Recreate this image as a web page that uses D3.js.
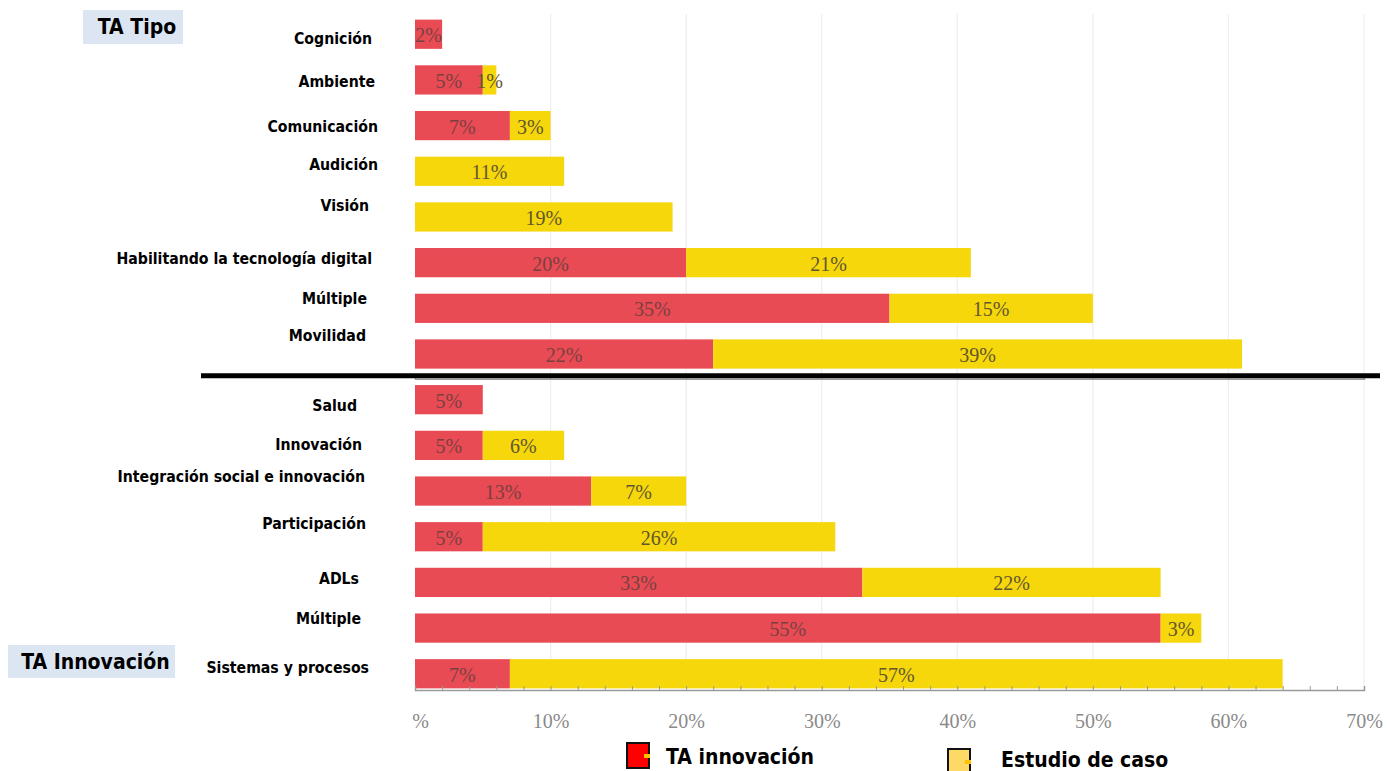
<!DOCTYPE html>
<html lang="es">
<head>
<meta charset="utf-8">
<script src="https://cdn.jsdelivr.net/npm/d3@7"></script>
<style>
  html, body { margin: 0; padding: 0; background: #ffffff; }
  svg { display: block; }
  .cat { font-family: "DejaVu Sans Condensed", "DejaVu Sans", sans-serif; font-weight: bold; font-size: 15.7px; fill: #000; }
  .val { font-family: "Liberation Serif", "DejaVu Serif", serif; font-size: 20px; }
  .tick text { font-family: "Liberation Serif", "DejaVu Serif", serif; font-size: 20px; fill: #8a8a8a; }
  .group-title { font-family: "DejaVu Sans Condensed", "DejaVu Sans", sans-serif; font-weight: bold; font-size: 21px; fill: #000; }
  .legend-text { font-family: "DejaVu Sans Condensed", "DejaVu Sans", sans-serif; font-weight: bold; font-size: 21px; fill: #000; }
</style>
</head>
<body>
<svg id="chart" width="1388" height="771"></svg>
<script>
// Tipo de tecnología asistiva
const tipoCategories = ["Cognición", "Ambiente", "Comunicación", "Audición", "Visión",
  "Habilitando la tecnología digital", "Múltiple", "Movilidad"];
const taInnovacionTipo = [2, 5, 7, 0, 0, 20, 35, 22];
const estudioCasoTipo  = [0, 1, 3, 11, 19, 21, 15, 39];

// Tipo de innovación
const innovCategories = ["Salud", "Innovación", "Integración social e innovación",
  "Participación", "ADLs", "Múltiple", "Sistemas y procesos"];
const taInnovacionInnov = [5, 5, 13, 5, 33, 55, 7];
const estudioCasoInnov  = [0, 6, 7, 26, 22, 3, 57];

const tickValues = [0, 10, 20, 30, 40, 50, 60, 70];
const tickLabels = ["%", "10%", "20%", "30%", "40%", "50%", "60%", "70%"];
const groupTitles = ["TA Tipo", "TA Innovación"];
const seriesNames = ["TA innovación", "Estudio de caso"];

// Small hand placement of the row captions relative to their bars [dx, dy]
const captionNudge = [
  [0, 4], [3, 2], [6, 1], [6, -7], [-3, -11], [0, -4], [-5, -10], [-6, -18],
  [-15, 6], [-10, -1], [-7, -15], [-6, -13], [-13, -4], [-11, -10], [-3, -6]
];

const rows = tipoCategories.map((c, i) => ({
    key: "tipo-" + i, label: c, ta: taInnovacionTipo[i], ec: estudioCasoTipo[i]
  })).concat(innovCategories.map((c, i) => ({
    key: "innov-" + i, label: c, ta: taInnovacionInnov[i], ec: estudioCasoInnov[i]
  })));

const colors = { ta: "#e94b55", ec: "#f6d70c" };
const labelColors = { ta: "#7a4040", ec: "#62562c" };

const svg = d3.select("#chart");

const x = d3.scaleLinear().domain([0, 70]).range([415, 1364]);
const y = d3.scaleBand().domain(rows.map(r => r.key)).range([5, 703])
  .paddingInner(0.36).paddingOuter(0.32);
const axisY = 690;

// vertical grid
svg.append("g").selectAll("line").data(tickValues.slice(1)).join("line")
  .attr("x1", d => x(d)).attr("x2", d => x(d))
  .attr("y1", 14).attr("y2", axisY)
  .attr("stroke", "#eeeeee").attr("stroke-width", 1.2);

// stacked bars
const stack = d3.stack().keys(["ta", "ec"]);
const series = stack(rows);

const layers = svg.append("g").selectAll("g").data(series).join("g")
  .attr("fill", s => colors[s.key]);

layers.selectAll("rect").data(s => s).join("rect")
  .attr("x", d => x(d[0]))
  .attr("y", d => y(d.data.key))
  .attr("width", d => x(d[1]) - x(d[0]))
  .attr("height", y.bandwidth());

// value labels
series.forEach(s => {
  svg.append("g").selectAll("text").data(s.filter(d => d[1] - d[0] > 0)).join("text")
    .attr("class", "val")
    .attr("fill", labelColors[s.key])
    .attr("text-anchor", "middle")
    .attr("x", d => (x(d[0]) + x(d[1])) / 2)
    .attr("y", d => y(d.data.key) + y.bandwidth() / 2)
    .attr("dy", "0.4em")
    .text(d => (d[1] - d[0]) + "%");
});

// row captions
svg.append("g").selectAll("text").data(rows).join("text")
  .attr("class", "cat")
  .attr("text-anchor", "end")
  .attr("x", (d, i) => 372 + captionNudge[i][0])
  .attr("y", (d, i) => y(d.key) + y.bandwidth() / 2 + captionNudge[i][1])
  .attr("dy", "0.35em")
  .text(d => d.label);

// bottom axis: minor ticks every 2 %
const minorAxis = d3.axisBottom(x).tickValues(d3.range(0, 71, 2)).tickSize(-4).tickFormat("");
svg.append("g").attr("transform", `translate(0,${axisY})`).call(minorAxis)
  .call(g => g.select(".domain").attr("stroke", "#9a9a9a").attr("stroke-width", 1.5))
  .call(g => g.selectAll(".tick line").attr("stroke", "#9a9a9a"));

const labelAxis = d3.axisBottom(x).tickValues(tickValues).tickSize(0).tickPadding(24)
  .tickFormat((d, i) => tickLabels[i]);
svg.append("g").attr("transform", `translate(0,${axisY})`).call(labelAxis)
  .call(g => g.select(".domain").remove())
  .call(g => g.selectAll(".tick text").attr("dx", (d, i) => i === 0 ? 5 : 0));

// axis of the upper block, under the divider
const upperSplit = (y(rows[7].key) + y.bandwidth() + y(rows[8].key)) / 2;
svg.append("g").attr("transform", `translate(0,${upperSplit + 2})`)
  .call(d3.axisBottom(x).tickValues(tickValues).tickSize(-3).tickFormat(""))
  .call(g => g.select(".domain").attr("stroke", "#9a9a9a").attr("stroke-width", 1.5))
  .call(g => g.selectAll(".tick line").attr("stroke", "#9a9a9a"));

// divider between the two groups
svg.append("line")
  .attr("x1", 201).attr("x2", 1380)
  .attr("y1", upperSplit - 1).attr("y2", upperSplit - 1)
  .attr("stroke", "#000").attr("stroke-width", 5);

// group titles
const titleBoxes = [
  { text: groupTitles[0], x: 83, y: 10, w: 100, h: 34 },
  { text: groupTitles[1], x: 8, y: 645, w: 167, h: 33 }
];
const tg = svg.append("g").selectAll("g").data(titleBoxes).join("g");
tg.append("rect").attr("x", d => d.x).attr("y", d => d.y).attr("width", d => d.w).attr("height", d => d.h)
  .attr("fill", "#dce6f2");
tg.append("text").attr("class", "group-title").attr("text-anchor", "middle")
  .attr("x", d => d.x + d.w / 2 + 4).attr("y", d => d.y + d.h / 2).attr("dy", "0.35em")
  .text(d => d.text);

// legend
const legendItems = [
  { name: seriesNames[0], fill: "#ff0000", x: 627, y: 743, tx: 666, ty: 764 },
  { name: seriesNames[1], fill: "#ffd966", x: 948, y: 749, tx: 1001, ty: 767 }
];
const lg = svg.append("g").selectAll("g").data(legendItems).join("g");
lg.append("rect").attr("x", d => d.x).attr("y", d => d.y).attr("width", 22).attr("height", 25)
  .attr("fill", d => d.fill).attr("stroke", "#111").attr("stroke-width", 2);
lg.append("rect").attr("x", d => d.x + 17).attr("y", d => d.y + 11).attr("width", 6).attr("height", 4)
  .attr("fill", "#ffc000");
lg.append("text").attr("class", "legend-text").attr("x", d => d.tx).attr("y", d => d.ty)
  .text(d => d.name);
</script>
</body>
</html>
